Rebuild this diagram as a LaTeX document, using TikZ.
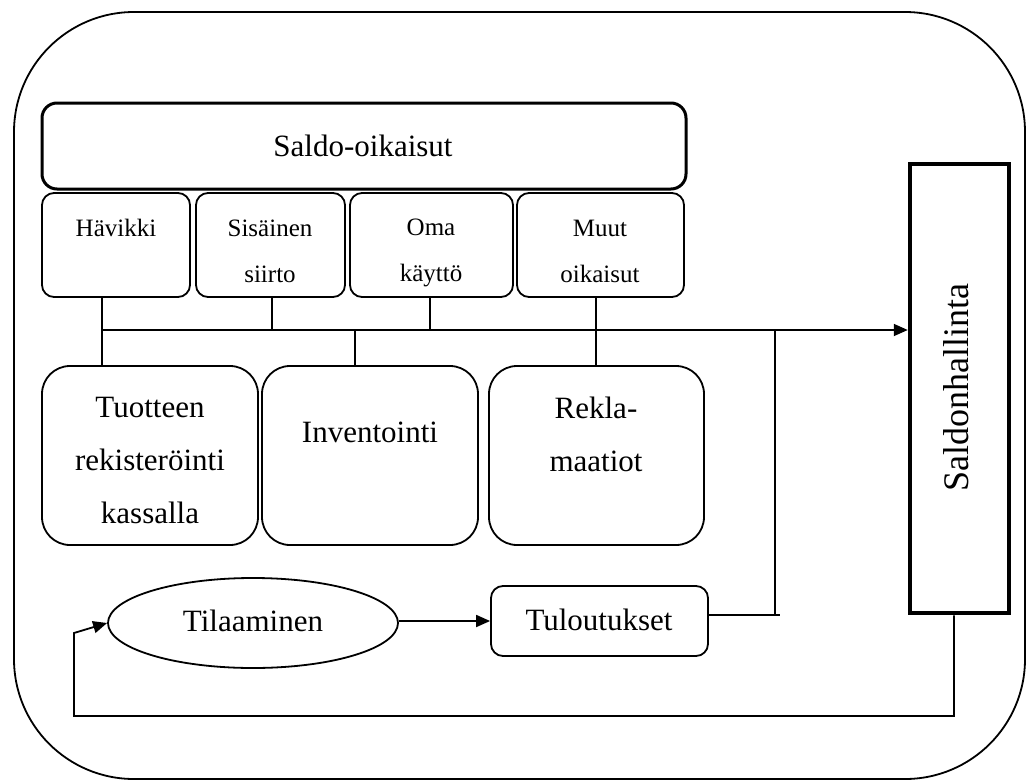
\documentclass[tikz,border=0pt]{standalone}
\usepackage{fontspec}
\setmainfont{Liberation Serif}
\usetikzlibrary{fit,arrows.meta,shapes.geometric}
\begin{document}
\begin{tikzpicture}[x=1pt,y=-1pt,
  frame/.style={draw,line width=1.8pt,rounded corners=120pt},
  headbox/.style={draw,line width=3pt,rounded corners=15pt,inner sep=0pt},
  smallbox/.style={draw,line width=1.8pt,rounded corners=12pt,inner sep=0pt},
  bigbox/.style={draw,line width=1.8pt,rounded corners=28pt,inner sep=0pt},
  mainbox/.style={draw,line width=4.5pt,inner sep=0pt},
  bigtxt/.style={font=\fontsize{31}{53}\selectfont,align=center,inner sep=0pt},
  smalltxt/.style={font=\fontsize{25}{46}\selectfont,align=center,inner sep=0pt},
  conn/.style={line width=1.8pt},
  arr/.style={line width=1.8pt,-{Triangle[length=14pt,width=12pt]}}
]
\useasboundingbox (0,0) rectangle (1029,782);
% outer frame
\draw[frame] (14,12) rectangle (1025,779);
% header
\node[headbox,fit={(42,103) (686,189)}] (saldo) {};
\node[bigtxt] (saldoT) at (363,146) {Saldo-oikaisut};
% small boxes
\node[smallbox,fit={(42,193) (190,297)}] (hav) {};
\node[smallbox,fit={(196,193) (345,297)}] (sis) {};
\node[smallbox,fit={(350,193) (513,297)}] (oma) {};
\node[smallbox,fit={(517,193) (684,297)}] (muut) {};
\node[smalltxt] (havT) at (116,228) {Hävikki};
\node[smalltxt] (sisT) at (270,251) {Sisäinen\\siirto};
\node[smalltxt] (omaT) at (431,253) {Oma\\käyttö};
\node[smalltxt] (muutT) at (600,251) {Muut\\oikaisut};
% big boxes
\node[bigbox,fit={(42,366) (258,545)}] (tuo) {};
\node[bigbox,fit={(262,366) (478,545)}] (inv) {};
\node[bigbox,fit={(489,366) (704,545)}] (rek) {};
\node[bigtxt] (tuoT) at (150,460) {Tuotteen\\rekisteröinti\\kassalla};
\node[bigtxt] (invT) at (370,432) {Inventointi};
\node[bigtxt] (rekT) at (596,434) {Rekla-\\maatiot};
% saldonhallinta
\node[mainbox,fit={(910,164) (1009,613)}] (sh) {};
\node[font=\fontsize{36}{40}\selectfont,rotate=90,inner sep=0pt] (shT) at (956,388) {Saldonhallinta};
% bottom row
\node[draw,line width=1.8pt,ellipse,minimum width=290pt,minimum height=90pt,inner sep=0pt] (til) at (253,623) {};
\node[bigtxt] (tilT) at (253,621) {Tilaaminen};
\node[smallbox,fit={(491,586) (708,656)}] (tul) {};
\node[bigtxt] (tulT) at (599,620) {Tuloutukset};
% connector coordinates
\coordinate (busL) at (102,330);
\coordinate (busR) at (775,330);
\coordinate (tulR) at (780,615);
\coordinate (fb1) at (954,716);
\coordinate (fb2) at (74,716);
\coordinate (fb3) at (74,633);
% taps
\draw[conn] (hav.south -| 102,0) -- (tuo.north -| 102,0);
\draw[conn] (sis.south -| 272,0) -- (272,330);
\draw[conn] (oma.south -| 430,0) -- (430,330);
\draw[conn] (muut.south -| 596,0) -- (rek.north -| 596,0);
\draw[conn] (355,330) -- (inv.north -| 355,0);
% bus with arrow
\draw[arr] (busL) -- (sh.west |- busL);
% tuloutukset to bus
\draw[conn] (tul.east |- tulR) -- (tulR);
\draw[conn] (busR |- tulR) -- (busR);
% tilaaminen -> tuloutukset
\draw[arr] (til.east |- 0,621) -- (tul.west |- 0,621);
% feedback
\draw[arr] (sh.south -| fb1) -- (fb1) -- (fb2) -- (fb3) -- (til.west);
\end{tikzpicture}
\end{document}
